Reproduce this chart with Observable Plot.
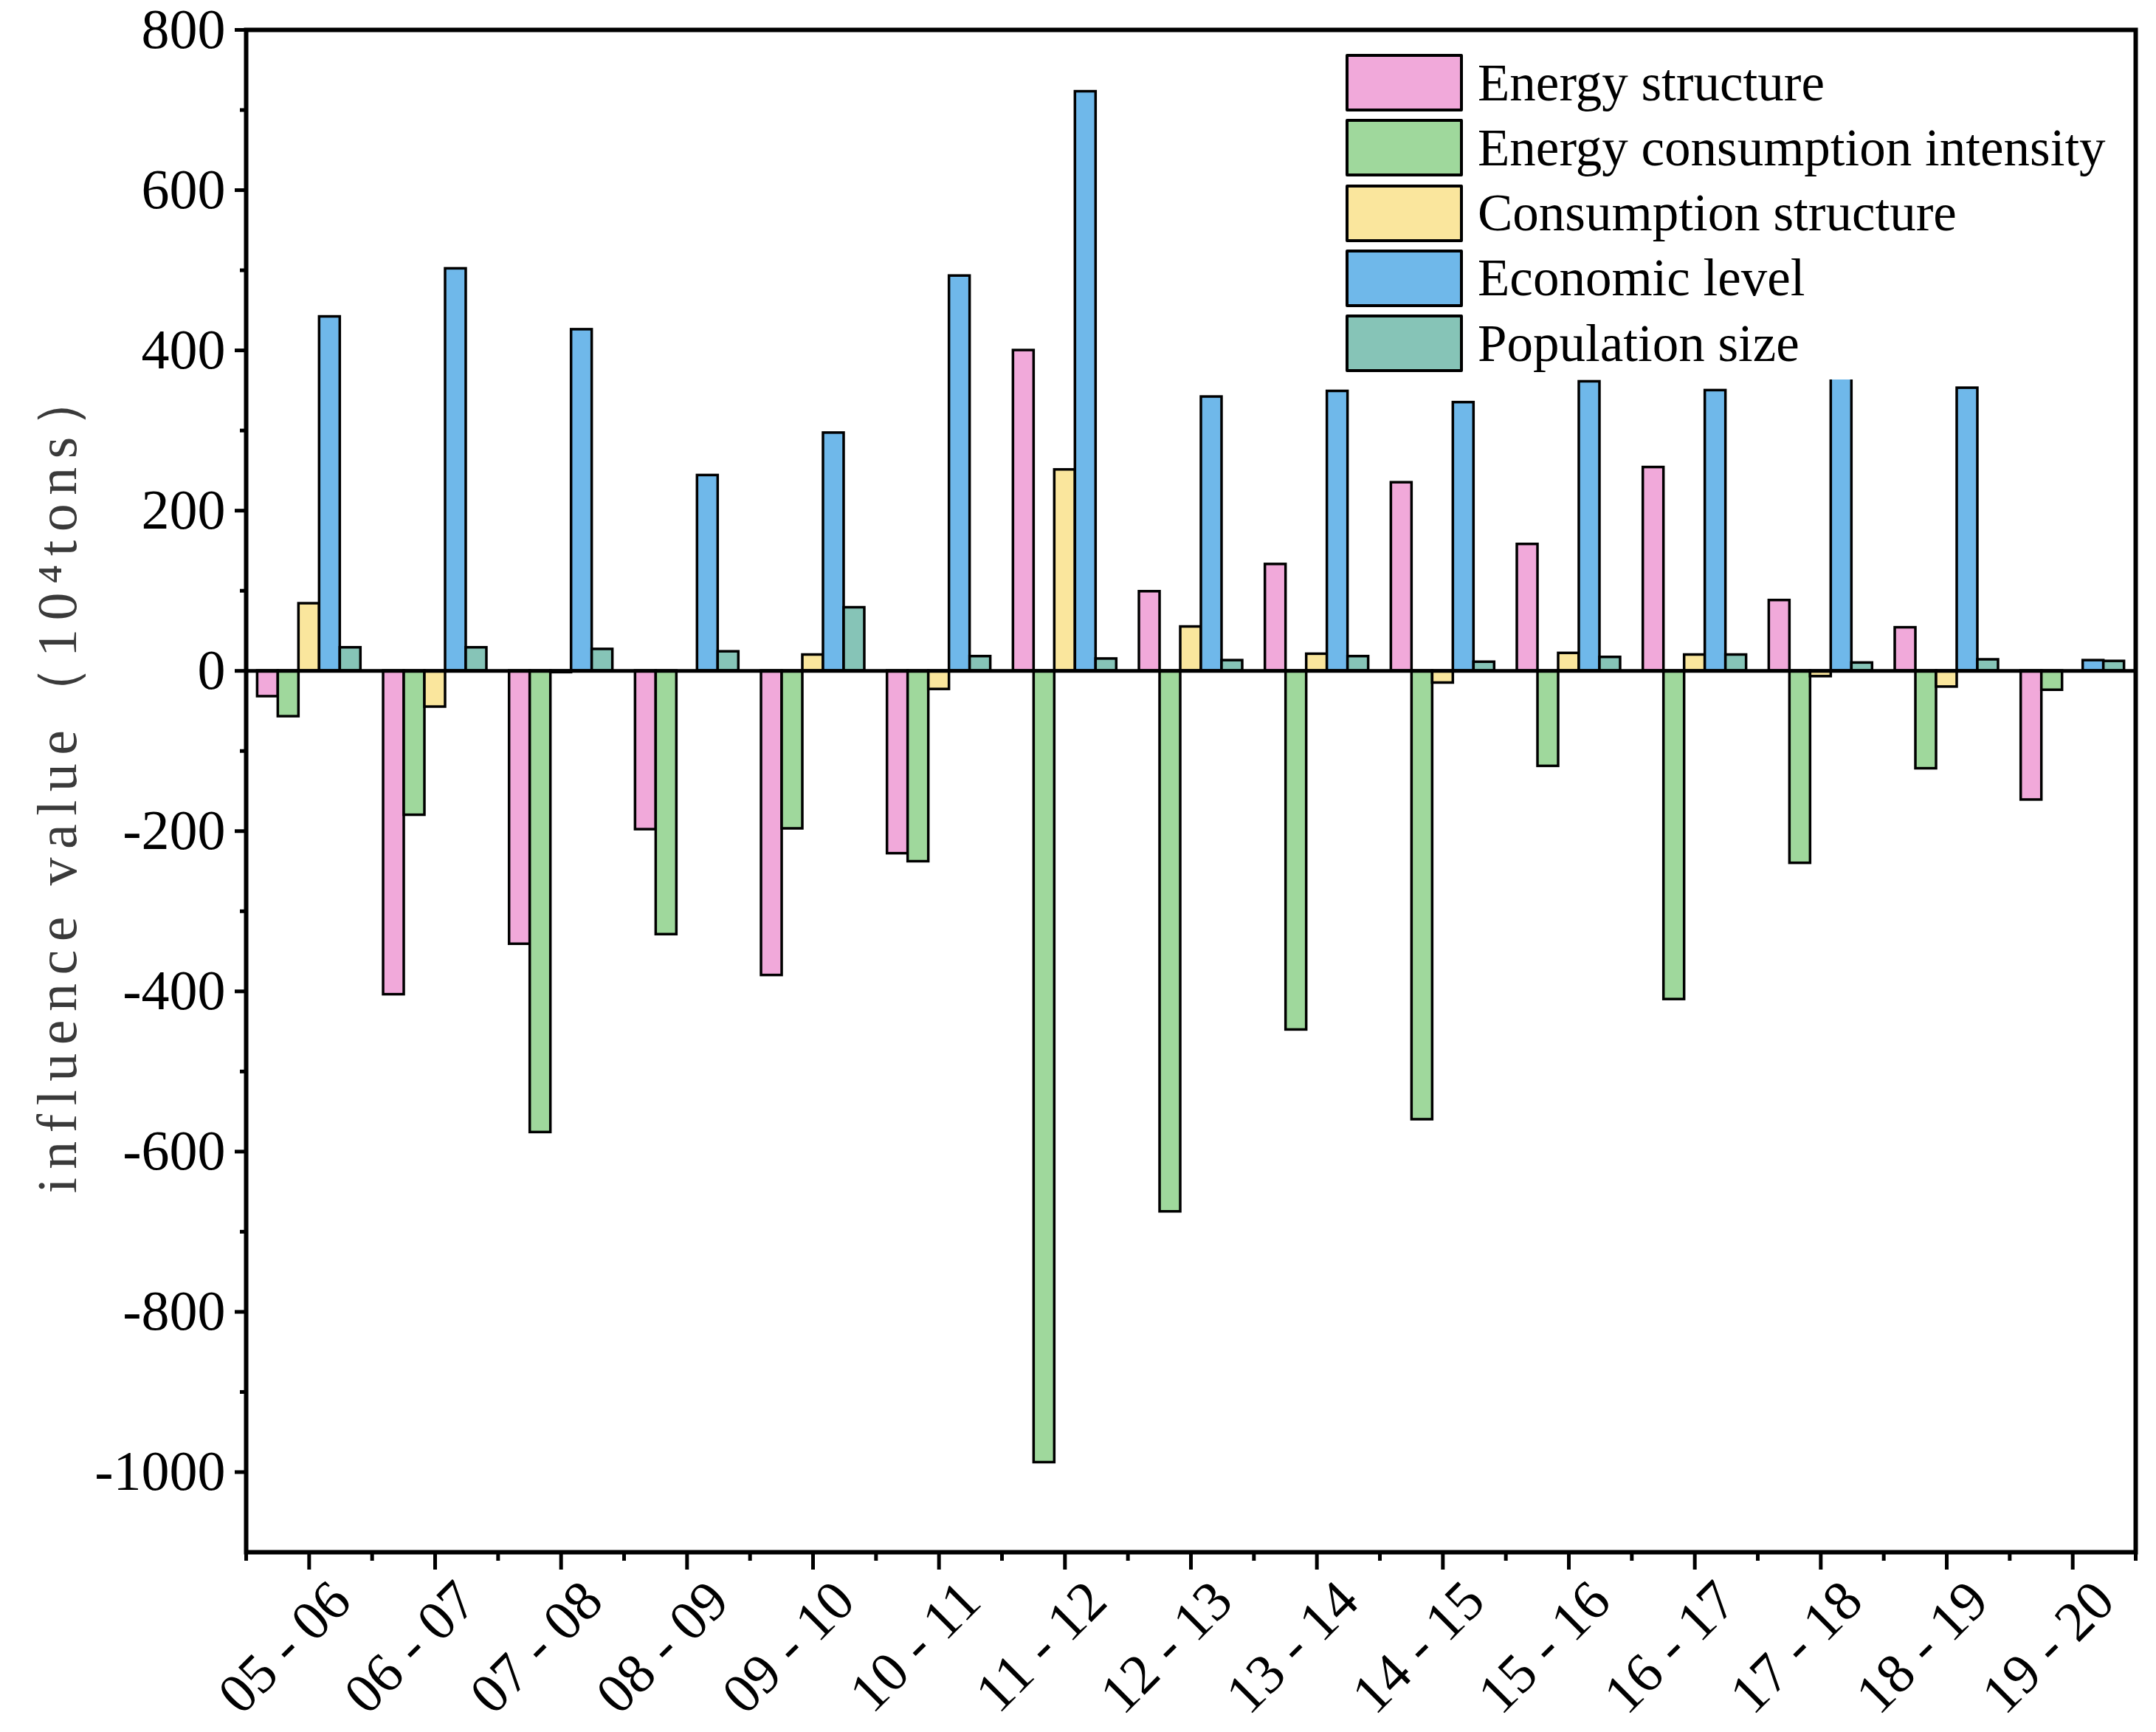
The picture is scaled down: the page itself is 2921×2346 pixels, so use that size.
<!DOCTYPE html>
<html><head><meta charset="utf-8">
<script src="https://cdn.jsdelivr.net/npm/d3@7"></script>
<script src="https://cdn.jsdelivr.net/npm/@observablehq/plot@0.6"></script>
<style>
body{margin:0;background:#fff;}
#wrap{position:relative;width:2921px;height:2346px;}
#legend{position:absolute;left:1812px;top:62px;width:1070px;height:452px;background:#fff;}
.row{position:absolute;left:11px;display:flex;align-items:center;height:78px;}
.sw{box-sizing:border-box;width:159px;height:78px;border:4px solid #000;border-radius:2px;}
.lab{margin-left:20px;font-family:"Liberation Serif";font-size:71px;color:#000;white-space:nowrap;line-height:1;}
</style></head><body><div id="wrap"><div id="legend"></div></div>
<script>
const periods = ["05 - 06","06 - 07","07 - 08","08 - 09","09 - 10","10 - 11","11 - 12","12 - 13","13 - 14","14 - 15","15 - 16","16 - 17","17 - 18","18 - 19","19 - 20"];
const seriesNames = ["Energy structure","Energy consumption intensity","Consumption structure","Economic level","Population size"];
const energyStructure      = [-32,-404,-341,-198,-380,-228,400,99,133,235,158,254,88,54,-161];
const consumptionIntensity = [-57,-180,-576,-329,-197,-238,-988,-675,-448,-560,-119,-410,-240,-122,-24];
const consumptionStructure = [84,-45,-2,0,20,-23,251,55,21,-15,22,20,-7,-20,0];
const economicLevel        = [442,502,426,244,297,493,723,342,349,335,361,350,380,353,13];
const populationSize       = [29,29,27,24,79,18,15,13,18,11,17,20,10,14,12];
const colors = ["#F1A9DA","#9FD89C","#FAE69D","#6FB8EA","#86C4B7"];
const yTicks = [-1000,-800,-600,-400,-200,0,200,400,600,800];
const yMinor = [-900,-700,-500,-300,-100,100,300,500,700];
const yTitle = "influence value（10⁴tons）";

const seriesValues = [energyStructure, consumptionIntensity, consumptionStructure, economicLevel, populationSize];
const table = [];
periods.forEach((p, i) => seriesNames.forEach((s, j) => table.push({period: p, idx: i, series: s, sIdx: j, value: seriesValues[j][i]})));

const groupPad = 0.09;
const barW = (1 - 2 * groupPad) / seriesNames.length;
const centers = periods.map((p, i) => i + 0.5);

const chart = Plot.plot({
  width: 2921,
  height: 2346,
  marginLeft: 333,
  marginRight: 28,
  marginTop: 40,
  marginBottom: 244,
  style: {fontFamily: "Liberation Serif", background: "#fff", color: "#000"},
  x: {type: "linear", domain: [0, periods.length]},
  y: {domain: [-1100, 800]},
  color: {domain: seriesNames, range: colors},
  marks: [
    Plot.rectY(table, {
      x1: d => d.idx + groupPad + d.sIdx * barW,
      x2: d => d.idx + groupPad + (d.sIdx + 1) * barW,
      y1: 0, y2: "value",
      fill: "series", stroke: "#000", strokeWidth: 3.5
    }),
    Plot.ruleY([0], {stroke: "#000", strokeWidth: 5}),
    Plot.frame({stroke: "#000", strokeWidth: 6}),
    Plot.axisY(yTicks, {anchor: "left", tickSize: 15, tickPadding: 13, strokeWidth: 5, fontSize: 76, tickFormat: d => String(d), label: null}),
    Plot.axisY(yMinor, {anchor: "left", tickSize: 8, strokeWidth: 5, tickFormat: () => "", label: null}),
    Plot.axisX(centers, {anchor: "bottom", tickSize: 24, strokeWidth: 5, tickFormat: () => "", label: null}),
    Plot.axisX(centers, {anchor: "bottom", tickSize: 0, tickPadding: 34, fontSize: 76, tickRotate: -45, dx: 43, dy: 19, tickFormat: d => periods[Math.floor(d)], label: null}),
    Plot.axisX(d3.range(periods.length + 1), {anchor: "bottom", tickSize: 12, strokeWidth: 5, tickFormat: () => "", label: null}),
    Plot.text([yTitle], {frameAnchor: "left", textAnchor: "middle", rotate: -90, dx: -255, dy: -17, fontSize: 76, fontFamily: "Liberation Serif", fill: "#3a3a3a"})
  ]
});
document.getElementById("wrap").prepend(chart);
d3.select(chart).selectAll("text").filter(function() { return this.textContent === yTitle; }).attr("letter-spacing", 11.5);

const legend = d3.select("#legend");
seriesNames.forEach((s, j) => {
  const row = legend.append("div").attr("class", "row").style("top", (11 + j * 88.25) + "px");
  row.append("div").attr("class", "sw").style("background", colors[j]);
  row.append("div").attr("class", "lab").text(s);
});
</script>
</body></html>
